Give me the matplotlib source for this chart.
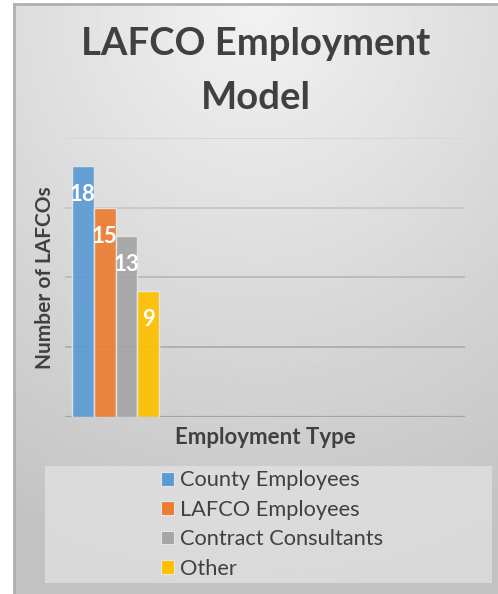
import matplotlib.pyplot as plt
import numpy as np
from matplotlib.patches import Rectangle

plt.rcParams["font.family"] = ["Lato", "DejaVu Sans"]

series = ["County Employees", "LAFCO Employees", "Contract Consultants", "Other"]
counts = [18, 15, 13, 9]
colors = ["#5B9BD5", "#ED7D31", "#A5A5A5", "#FFC000"]
y_ticks = [0, 5, 10, 15, 20]
grid_colors = ["#a4a4a4", "#b0b0b0", "#bcbcbc", "#c8c8c8", "#d6d6d6"]

W, H = 498, 594
fig = plt.figure(figsize=(W / 100, H / 100), dpi=100)
fig.patch.set_facecolor("white")

# chart area background: soft radial gradient, lighter near the top
bg = fig.add_axes([14 / W, 0, (W - 14) / W, (H - 4) / H])
yy, xx = np.mgrid[0:1:300j, 0:1:300j]
dist = np.sqrt(((xx - 0.5) * 0.9) ** 2 + (yy * 1.0) ** 2)
shade = 0.95 - 0.19 * np.clip(dist, 0, 1)
bg.imshow(shade, cmap="gray", vmin=0, vmax=1, aspect="auto", extent=[0, 1, 0, 1],
          origin="upper", interpolation="bilinear")
bg.set_xticks([])
bg.set_yticks([])
for side in ["right", "bottom"]:
    bg.spines[side].set_visible(False)
for side in ["left", "top"]:
    bg.spines[side].set_color("#b0b0b0")
    bg.spines[side].set_linewidth(2)
bg.set_zorder(0)

# plot area
ax = fig.add_axes([65 / W, (H - 417) / H, 400 / W, (417 - 138) / H])
ax.patch.set_alpha(0)
x = np.arange(len(counts))
bars = ax.bar(x, counts, width=1.0, color=colors, edgecolor="#e6e6e6", linewidth=1.0,
              alpha=0.92, zorder=3)
ax.set_ylim(0, 20)
ax.set_xlim(-0.5 - 7 / 21.75, -0.5 + 393 / 21.75)
ax.set_yticks(y_ticks)
ax.set_yticklabels([])
ax.set_xticks([])
ax.tick_params(length=0)
for t, gc in zip(y_ticks, grid_colors):
    ax.axhline(t, color=gc, lw=1.6 if t == 0 else 1.4, zorder=1)
for s in ax.spines.values():
    s.set_visible(False)

for xi, v in zip(x, counts):
    ax.annotate(str(v), (xi, v), xytext=(0, -20.5), textcoords="offset points",
                ha="center", va="center", color="white", fontsize=16, fontweight="bold",
                zorder=4)

fig.text(256 / W, 1 - 55 / H, "LAFCO Employment", ha="center", va="baseline",
         fontsize=27.5, fontweight="bold", color="#404040")
fig.text(256 / W, 1 - 109 / H, "Model", ha="center", va="baseline",
         fontsize=27.5, fontweight="bold", color="#404040")
fig.text(45 / W, 1 - 278 / H, "Number of LAFCOs", rotation=90, ha="center", va="center",
         fontsize=15, fontweight="bold", color="#404040")
fig.text(265 / W, 1 - 437 / H, "Employment Type", ha="center", va="center",
         fontsize=16, fontweight="bold", color="#404040")

# legend box
box = Rectangle((45 / W, 1 - 583 / H), 447 / W, 117 / H, transform=fig.transFigure,
                facecolor="#e2e2e2", edgecolor="none", alpha=0.75, zorder=1)
fig.patches.append(box)
handles = [Rectangle((0, 0), 1, 1, facecolor=c, edgecolor="#e6e6e6", lw=0.8) for c in colors]
leg = fig.legend(handles, series, loc="center", bbox_to_anchor=(272 / W, 1 - 524.5 / H),
                 frameon=False, fontsize=15.7, handlelength=0.6, handleheight=0.6,
                 handletextpad=0.3, labelspacing=0.43, labelcolor="#404040",
                 borderpad=0, borderaxespad=0)
leg.set_zorder(5)

fig.savefig("out.png", dpi=100)
